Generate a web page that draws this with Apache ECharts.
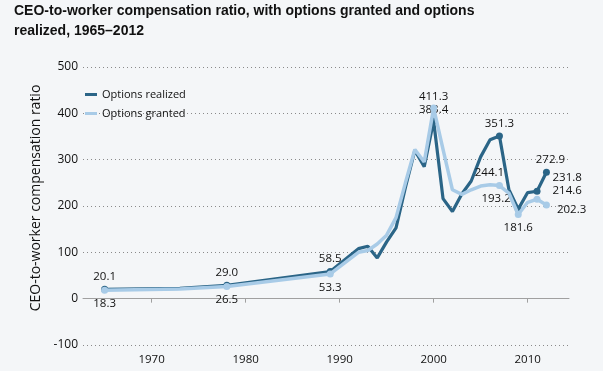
<!DOCTYPE html>
<html>
<head>
<meta charset="utf-8">
<script src="https://cdn.jsdelivr.net/npm/echarts@6/dist/echarts.min.js"></script>
<style>
html,body{margin:0;padding:0;background:#f4f6f8;}
#c{width:603px;height:371px;}
</style>
</head>
<body>
<div id="c"></div>
<script>
// ---- Data ----
var years = [1965, 1973, 1978, 1989, 1992, 1993, 1994, 1995, 1996, 1997, 1998, 1999, 2000, 2001, 2002, 2003, 2004, 2005, 2006, 2007, 2008, 2009, 2010, 2011, 2012];
var realized = [20.1, 22.3, 29.0, 58.5, 108, 113, 88, 122.6, 153, 240, 320, 285, 383.4, 216, 188, 226, 254, 306, 343, 351.3, 236, 193.2, 229, 231.8, 272.9];
var granted  = [18.3, 20.8, 26.5, 53.3, 100, 104, 118, 137, 175, 250, 322, 295, 411.3, 322, 235, 225, 235, 243, 246, 244.1, 228, 181.6, 208, 214.6, 202.3];
var xTicks = [1970, 1980, 1990, 2000, 2010];
var seriesNames = ['Options realized', 'Options granted'];

// labelled years for each series (placement kept separate from data)
var realizedLabelled = [1965, 1978, 1989, 2000, 2007, 2009, 2011, 2012];
var grantedLabelled  = [1965, 1978, 1989, 2000, 2007, 2009, 2011, 2012];

var realizedPlace = {
  1965: {position: 'top', distance: 3},
  1978: {position: 'top', distance: 3},
  1989: {position: 'top', distance: 3},
  2000: {position: 'top', distance: 2},
  2007: {position: 'top', distance: 3},
  2009: {position: 'left', distance: 4, offset: [0, -10]},
  2011: {position: 'right', distance: 5, offset: [7, -14]},
  2012: {position: 'top', distance: 3, offset: [4, 0]}
};
var grantedPlace = {
  1965: {position: 'bottom', distance: 4},
  1978: {position: 'bottom', distance: 4},
  1989: {position: 'bottom', distance: 4},
  2000: {position: 'top', distance: 2},
  2007: {position: 'top', distance: 3, offset: [-10, 0]},
  2009: {position: 'bottom', distance: 4},
  2011: {position: 'right', distance: 5, offset: [7, -9]},
  2012: {position: 'right', distance: 5, offset: [2, 5]}
};

var darkColor = '#2b6587';
var lightColor = '#a8cbe7';
var labelFont = {fontFamily: 'Open Sans', fontSize: 11.5, color: '#111'};

function build(vals, labelled, place) {
  return years.map(function (y, i) {
    var item = {value: [y, vals[i]]};
    if (labelled.indexOf(y) >= 0) {
      var p = place[y];
      item.symbol = 'circle';
      item.symbolSize = 7;
      item.label = Object.assign({
        show: true,
        formatter: vals[i].toFixed(1),
        position: p.position,
        distance: p.distance,
        offset: p.offset || [0, 0]
      }, labelFont);
    } else {
      item.symbol = 'none';
    }
    return item;
  });
}

var chart = echarts.init(document.getElementById('c'), null, {renderer: 'canvas'});
chart.setOption({
  backgroundColor: '#f4f6f8',
  animation: false,
  title: {
    text: 'CEO-to-worker compensation ratio, with options granted and options\nrealized, 1965\u20132012',
    left: 9,
    top: -4,
    textStyle: {fontFamily: 'Liberation Sans', fontWeight: 'bold', fontSize: 14, lineHeight: 20, color: '#111'}
  },
  legend: {
    orient: 'vertical',
    left: 80,
    top: 84,
    itemGap: 8,
    itemWidth: 12,
    itemHeight: 3,
    icon: 'rect',
    data: seriesNames,
    textStyle: {fontFamily: 'Open Sans', fontSize: 11, color: '#111'}
  },
  grid: {left: 83, right: 34, top: 67, bottom: 26, containLabel: false},
  xAxis: {
    type: 'value',
    min: 1962.7,
    max: 2014.4,
    splitLine: {show: false},
    axisLine: {show: true, lineStyle: {color: '#a0a0a0', width: 1}},
    axisTick: {show: true, customValues: xTicks, length: 4, lineStyle: {color: '#a0a0a0'}},
    axisLabel: {customValues: xTicks, fontFamily: 'Open Sans', fontSize: 11.5, color: '#111', margin: 9,
      formatter: function (v) { return String(v); }}
  },
  yAxis: {
    type: 'value',
    min: -100,
    max: 500,
    interval: 100,
    name: 'CEO-to-worker compensation ratio',
    nameLocation: 'middle',
    nameRotate: 90,
    nameGap: 36,
    nameTextStyle: {fontFamily: 'Open Sans', fontSize: 14, color: '#111', padding: [0, 0, 0, 16]},
    axisLine: {show: false},
    axisTick: {show: false},
    axisLabel: {fontFamily: 'Open Sans', fontSize: 12, color: '#111', margin: 5},
    splitLine: {show: true, lineStyle: {type: [1, 3], color: '#8a8a8a', width: 1}}
  },
  series: [
    {
      name: seriesNames[0],
      type: 'line',
      data: build(realized, realizedLabelled, realizedPlace),
      color: darkColor,
      lineStyle: {width: 3.2, color: darkColor},
      itemStyle: {color: darkColor},
      z: 2
    },
    {
      name: seriesNames[1],
      type: 'line',
      data: build(granted, grantedLabelled, grantedPlace),
      color: lightColor,
      lineStyle: {width: 3.5, color: lightColor},
      itemStyle: {color: lightColor},
      z: 3
    }
  ]
});
</script>
</body>
</html>
